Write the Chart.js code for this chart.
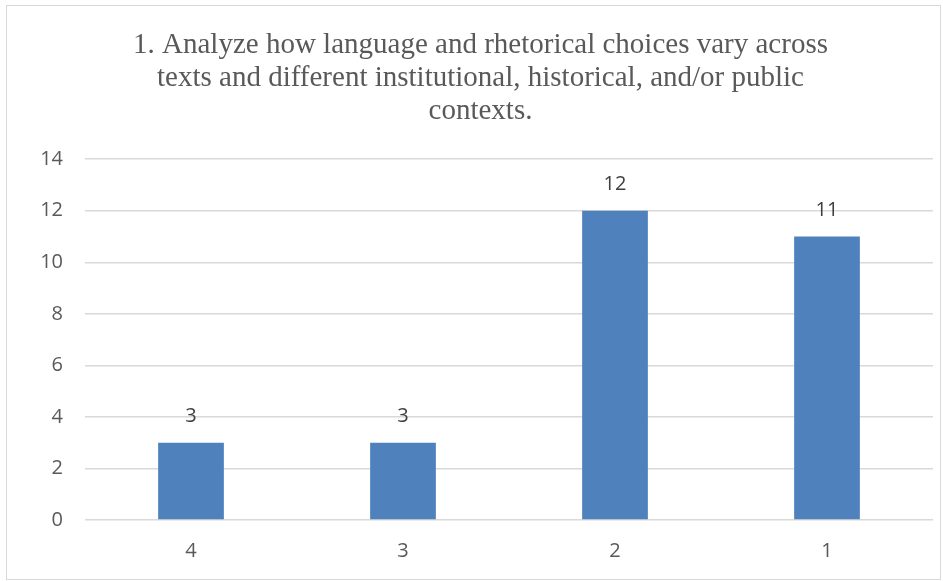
<!DOCTYPE html>
<html>
<head>
<meta charset="utf-8">
<script src="https://cdn.jsdelivr.net/npm/chart.js@4/dist/chart.umd.min.js"></script>
<style>
  html, body { margin: 0; padding: 0; background: #ffffff; }
  #wrap { position: relative; width: 943px; height: 581px; }
  #frame { position: absolute; left: 6px; top: 5px; width: 933px; height: 573px;
           border: 1px solid #d9d9d9; pointer-events: none; }
  canvas { position: absolute; left: 0; top: 0; }
</style>
</head>
<body>
<div id="wrap">
  <canvas id="c" width="943" height="581"></canvas>
  <div id="frame"></div>
</div>
<script>
const titleLines = [
  '1. Analyze how language and rhetorical choices vary across',
  'texts and different institutional, historical, and/or public',
  'contexts.'
];
const categories = ['4', '3', '2', '1'];
const counts = [3, 3, 12, 11];
const yTicks = [0, 2, 4, 6, 8, 10, 12, 14];

const textColor = '#595959';
const barColor = '#4f81bd';
const gridColor = '#d9d9d9';
const sansFont = "'Open Sans', 'Liberation Sans', sans-serif";

// Writes each bar's value just above its top edge
const valueLabels = {
  id: 'valueLabels',
  afterDatasetsDraw(chart) {
    const ctx = chart.ctx;
    const meta = chart.getDatasetMeta(0);
    ctx.save();
    ctx.font = '20px ' + sansFont;
    ctx.fillStyle = '#404040';
    ctx.textAlign = 'center';
    ctx.textBaseline = 'middle';
    meta.data.forEach((bar, i) => {
      ctx.fillText(String(counts[i]), bar.x, bar.y - 26);
    });
    ctx.restore();
  }
};

new Chart(document.getElementById('c'), {
  type: 'bar',
  data: {
    labels: categories,
    datasets: [{
      data: counts,
      backgroundColor: barColor,
      borderWidth: 0,
      categoryPercentage: 1.0,
      barPercentage: 0.31
    }]
  },
  options: {
    responsive: false,
    animation: false,
    events: [],
    layout: { padding: { left: 28, right: 10, top: 22, bottom: 18 } },
    plugins: {
      legend: { display: false },
      tooltip: { enabled: false },
      title: {
        display: true,
        text: titleLines,
        color: textColor,
        font: { family: "'Liberation Serif', 'Times New Roman', serif", size: 29, weight: 'normal', lineHeight: 1.14 },
        padding: { top: 7, bottom: 31 }
      }
    },
    scales: {
      x: {
        afterFit(axis) { axis.height = 43; },
        grid: { display: false, drawTicks: false },
        border: { display: false },
        ticks: { color: textColor, font: { family: sansFont, size: 20 }, padding: 19 }
      },
      y: {
        min: 0,
        max: 14,
        afterBuildTicks(axis) { axis.ticks = yTicks.map(v => ({ value: v })); },
        afterFit(axis) { axis.width = 57; },
        grid: { color: gridColor, lineWidth: 1.5, drawTicks: false },
        border: { display: false },
        ticks: { color: textColor, font: { family: sansFont, size: 20 }, padding: 22 }
      }
    }
  },
  plugins: [valueLabels]
});
</script>
</body>
</html>
